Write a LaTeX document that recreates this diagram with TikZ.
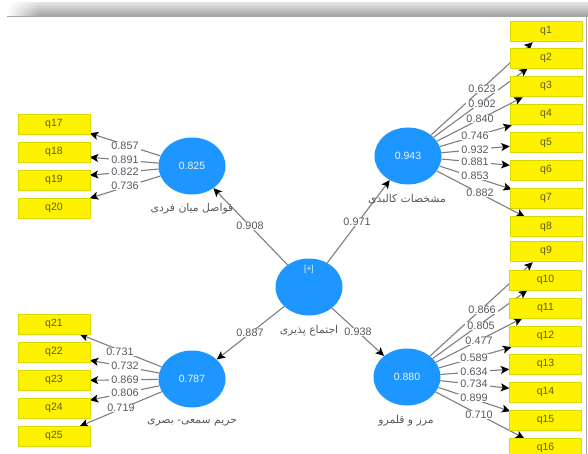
\documentclass[tikz,border=0pt]{standalone}
\usepackage{fontspec}
\setmainfont{Liberation Sans}
\newfontfamily\arabicfont[Script=Arabic]{DejaVu Sans}
\TeXXeTstate=1
\usetikzlibrary{arrows.meta,backgrounds,shapes.geometric,fadings}
\definecolor{boxedge}{HTML}{D9D900}
\definecolor{boxtext}{HTML}{5C5C10}
\definecolor{latent}{HTML}{1E96FF}
\definecolor{linec}{HTML}{7F7F7F}
\definecolor{labc}{HTML}{5A5560}
\tikzset{
  itembox/.style={draw=boxedge,line width=0.5pt,fill=yellow,minimum width=72pt,minimum height=20pt,inner sep=0pt,text height=5.5pt,text depth=0pt,font=\fontsize{10.5}{12}\selectfont,text=boxtext},
  latentc/.style={ellipse,fill=latent,minimum width=67pt,minimum height=57pt,inner sep=0pt,font=\fontsize{10.5}{12}\selectfont,text=white!90!latent},
  conn/.style={draw=linec,line width=1.1pt,-{Stealth[black,length=8.5pt,width=8pt,inset=2pt]}},
  weight/.style={fill=white,inner xsep=2.5pt,inner ysep=0pt,font=\fontsize{10.8}{12}\selectfont,text=labc},
  faname/.style={inner sep=0pt,font=\arabicfont\fontsize{10.8}{12}\selectfont,text=labc}
}
\newcommand{\loadln}[7]{%
  \node[weight] (l#2) at (#6,#7) {#5};
  \begin{pgfonlayer}{background}
    \draw[conn] (#1) -- ([xshift=#3pt,yshift=#4pt]#2.south west);
  \end{pgfonlayer}}
\begin{document}
\begin{tikzpicture}[x=1pt,y=-1pt]
\useasboundingbox (0,0) rectangle (588,454);
\clip (0,0) rectangle (588,454);
\begin{pgfonlayer}{background}
\fill[white] (0,0) rectangle (588,454);
\end{pgfonlayer}
% window title bar
\shade[top color=white!88!black,bottom color=black!38] (7,3) rectangle (588,16.5);
\fill[white,path fading=east] (7,2) rectangle (40,17);
\draw[black!35,line width=0.6pt] (7,16.7) -- (586,16.7) -- (586,454);
% indicator boxes
\foreach \n/\x/\y in {q1/546/31,q2/546/58,q3/546/86,q4/546/114,q5/546/142.5,q6/546/170,q7/546/198,q8/546/226.5,
  q9/546/251,q10/545.5/280,q11/545.5/308,q12/545.5/336,q13/545.5/364,q14/545.5/392,q15/545.5/420,q16/545.5/448,
  q17/54/124,q18/54/152,q19/54/180,q20/54/208,
  q21/54/324,q22/54/352,q23/54/380,q24/54/408,q25/54/436}
  {\node[itembox] (\n) at (\x,\y) {\n};}
% latent variables
\node[latentc] (c0) at (309,287) {};
\node[font=\fontsize{8.5}{10}\selectfont,text=white!90!latent,inner sep=0pt] (plus) at (309,269) {[+]};
\node[latentc] (c1) at (408,156) {0.943};
\node[latentc] (c2) at (407,377) {0.880};
\node[latentc] (c3) at (192,166) {0.825};
\node[latentc] (c4) at (192,379) {0.787};
% names
\node[faname] (n1) at (407,199) {\beginR مشخصات کالبدی\endR};
\node[faname] (n2) at (406,421) {\beginR مرز و قلمرو\endR};
\node[faname] (n3) at (192,209) {\beginR فواصل میان فردی\endR};
\node[faname] (n4) at (192,423) {\beginR حریم سمعی- بصری\endR};
\node[faname] (n0) at (309,331) {\beginR اجتماع پذیری\endR};
% structural paths
\node[weight] (w1) at (357,222) {0.971};
\node[weight] (w2) at (358,332) {0.938};
\node[weight] (w3) at (250,226) {0.908};
\node[weight] (w4) at (250,333) {0.887};
\begin{pgfonlayer}{background}
  \draw[conn] (c0) -- (c1);
  \draw[conn] (c0) -- (c2);
  \draw[conn] (c0) -- (c3);
  \draw[conn] (c0) -- (c4);
\end{pgfonlayer}
% loadings
\loadln{c1}{q1}{23}{-1}{0.623}{482}{89}
\loadln{c1}{q2}{18}{0}{0.902}{482}{104}
\loadln{c1}{q3}{13}{-1}{0.840}{480}{119}
\loadln{c1}{q4}{2}{-1}{0.746}{475}{136}
\loadln{c1}{q5}{0}{6.5}{0.932}{475}{150}
\loadln{c1}{q6}{0}{15}{0.881}{475}{162}
\loadln{c1}{q7}{2}{19}{0.853}{475}{176}
\loadln{c1}{q8}{15}{20}{0.882}{480}{193}
\loadln{c2}{q9}{23}{-1}{0.866}{482}{310}
\loadln{c2}{q10}{18}{0}{0.805}{481}{326}
\loadln{c2}{q11}{13}{0}{0.477}{479}{341}
\loadln{c2}{q12}{2}{-1}{0.589}{474}{358}
\loadln{c2}{q13}{0}{5}{0.634}{474}{372}
\loadln{c2}{q14}{0}{14}{0.734}{474}{384}
\loadln{c2}{q15}{1}{19}{0.899}{474}{398}
\loadln{c2}{q16}{15}{20}{0.710}{479}{415}
\loadln{c3}{q17}{72}{1}{0.857}{125}{146}
\loadln{c3}{q18}{72}{5}{0.891}{125}{160}
\loadln{c3}{q19}{72}{15}{0.822}{125}{172}
\loadln{c3}{q20}{72}{20}{0.736}{125}{186}
\loadln{c4}{q21}{62}{0}{0.731}{120}{352}
\loadln{c4}{q22}{72}{2}{0.732}{125}{366}
\loadln{c4}{q23}{72}{10}{0.869}{125}{380}
\loadln{c4}{q24}{72}{18}{0.806}{125}{393}
\loadln{c4}{q25}{62}{20}{0.719}{121}{408}
\end{tikzpicture}
\end{document}
